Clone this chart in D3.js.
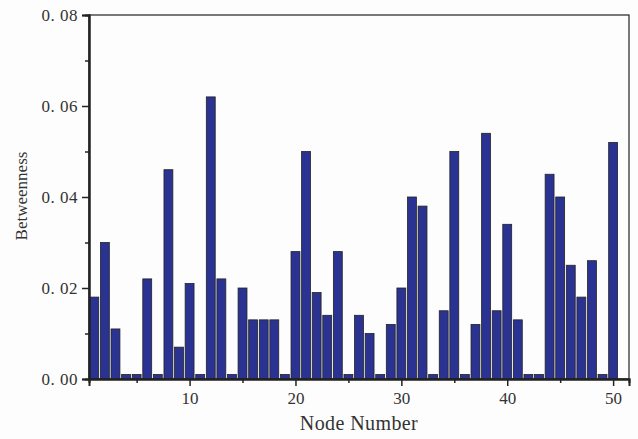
<!DOCTYPE html>
<html>
<head>
<meta charset="utf-8">
<script src="https://cdn.jsdelivr.net/npm/d3@7"></script>
<style>
  body { margin: 0; background: #fdfdfd; }
</style>
</head>
<body>
<script>
'use strict'

// node numbers and their betweenness values
var nodes = d3.range(1, 51)
var betweenness = [
  0.018, 0.030, 0.011, 0.001, 0.001, 0.022, 0.001, 0.046, 0.007, 0.021,
  0.001, 0.062, 0.022, 0.001, 0.020, 0.013, 0.013, 0.013, 0.001, 0.028,
  0.050, 0.019, 0.014, 0.028, 0.001, 0.014, 0.010, 0.001, 0.012, 0.020,
  0.040, 0.038, 0.001, 0.015, 0.050, 0.001, 0.012, 0.054, 0.015, 0.034,
  0.013, 0.001, 0.001, 0.045, 0.040, 0.025, 0.018, 0.026, 0.001, 0.052
]
var xTicks = [10, 20, 30, 40, 50]
var xMinor = [5, 15, 25, 35, 45]
var yTicks = [0, 0.02, 0.04, 0.06, 0.08]
var yMinor = [0.01, 0.03, 0.05, 0.07]

var W = 638, H = 439
  , font = '"Liberation Serif", "DejaVu Serif", serif'
  , m = { left: 89, right: 9, top: 15, bottom: 60 }
  , svg = d3.select('body').append('svg').attr('width', W).attr('height', H)
  , x = d3.scaleLinear().domain([0.5, 51.5]).range([m.left, W - m.right])
  , y = d3.scaleLinear().domain([0, 0.08]).range([H - m.bottom, m.top])
  , bw = (x(1) - x(0)) * 0.84

var data = nodes.map(function(n, i){ return { n: n, v: betweenness[i] } })

svg.append('g').selectAll('rect').data(data).enter().append('rect')
  .attr('x', function(d){ return x(d.n) - bw / 2 })
  .attr('y', function(d){ return y(d.v) })
  .attr('width', bw)
  .attr('height', function(d){ return y(0) - y(d.v) })
  .attr('fill', '#2b3392')
  .attr('stroke', '#222')
  .attr('stroke-width', 0.8)

// frame
svg.append('rect')
  .attr('x', m.left).attr('y', m.top)
  .attr('width', W - m.right - m.left).attr('height', H - m.bottom - m.top)
  .attr('fill', 'none').attr('stroke', '#222').attr('stroke-width', 1.2)

var fmt = function(d){ return d3.format('.2f')(d).replace('.', '. ') }

var yAxis = svg.append('g').attr('transform', 'translate(' + m.left + ',0)')
  .call(d3.axisLeft(y).tickValues(yTicks).tickFormat(fmt).tickSize(7).tickPadding(4))
svg.append('g').attr('transform', 'translate(' + m.left + ',0)')
  .call(d3.axisLeft(y).tickValues(yMinor).tickFormat('').tickSize(4))

var xAxis = svg.append('g').attr('transform', 'translate(0,' + y(0) + ')')
  .call(d3.axisBottom(x).tickValues(xTicks).tickSize(7).tickPadding(6))
svg.append('g').attr('transform', 'translate(0,' + y(0) + ')')
  .call(d3.axisBottom(x).tickValues(xMinor).tickFormat('').tickSize(4))

svg.selectAll('.domain').attr('stroke', '#222').attr('stroke-width', 2)
svg.selectAll('.tick line').attr('stroke', '#222').attr('stroke-width', 1.5)
yAxis.attr('font-family', font).selectAll('text')
  .attr('font-size', 17).attr('fill', '#333').attr('letter-spacing', '0.5px')
xAxis.attr('font-family', font).selectAll('text')
  .attr('font-size', 17).attr('fill', '#333')

svg.append('text')
  .attr('x', (x(0.5) + x(51.5)) / 2).attr('y', 430)
  .attr('text-anchor', 'middle')
  .attr('font-family', font).attr('font-size', 20).attr('fill', '#333')
  .attr('letter-spacing', '0.4px')
  .text('Node Number')

svg.append('text')
  .attr('transform', 'translate(27,' + 196 + ') rotate(-90)')
  .attr('text-anchor', 'middle')
  .attr('font-family', font).attr('font-size', 17).attr('fill', '#333')
  .text('Betweenness')
</script>
</body>
</html>
